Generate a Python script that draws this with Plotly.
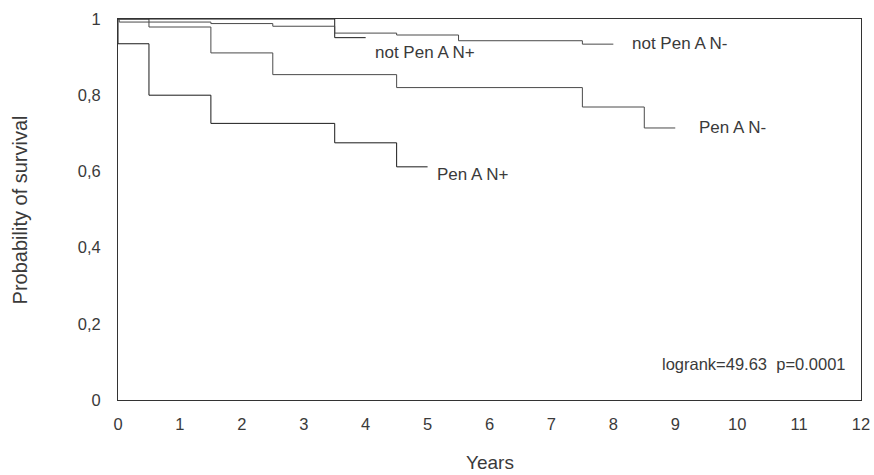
import plotly.graph_objects as go

# Kaplan-Meier step data (years, survival probability)
pen_np_x = [0, 0, 0.5, 1.5, 3.5, 4.5, 5.0]
pen_np_y = [1.0, 0.935, 0.80, 0.726, 0.675, 0.612, 0.612]

pen_nm_x = [0, 0.5, 1.5, 2.5, 4.5, 7.5, 8.5, 9.0]
pen_nm_y = [1.0, 0.979, 0.911, 0.854, 0.820, 0.769, 0.714, 0.714]

notpen_np_x = [0, 3.5, 4.0]
notpen_np_y = [1.0, 0.951, 0.951]

notpen_nm_x = [0, 0.02, 1.5, 2.5, 3.5, 4.5, 5.5, 7.5, 8.0]
notpen_nm_y = [1.0, 0.992, 0.988, 0.981, 0.963, 0.958, 0.943, 0.934, 0.934]

x_ticks = list(range(0, 13))
y_tickvals = [0, 0.2, 0.4, 0.6, 0.8, 1.0]
y_ticktext = ["0", "0,2", "0,4", "0,6", "0,8", "1"]

FONT = "Liberation Sans, Arial, sans-serif"
TXT = "#3a3a3a"

fig = go.Figure()
series = [
    (pen_np_x, pen_np_y, "#1a1a1a"),
    (pen_nm_x, pen_nm_y, "#4a4a4a"),
    (notpen_np_x, notpen_np_y, "#1a1a1a"),
    (notpen_nm_x, notpen_nm_y, "#4a4a4a"),
]
for xs, ys, c in series:
    fig.add_trace(go.Scatter(x=xs, y=ys, mode="lines", line=dict(shape="hv", color=c, width=1),
                             showlegend=False, hoverinfo="skip"))

labels = [
    ("not Pen A N+", 4.12, 0.912, 17),
    ("not Pen A N-", 8.27, 0.936, 17),
    ("Pen A N-", 9.35, 0.715, 17),
    ("Pen A N+", 5.12, 0.592, 17),
    ("logrank=49.63  p=0.0001", 8.75, 0.094, 16.5),
]
for t, x, y, s in labels:
    fig.add_annotation(x=x, y=y, text=t, showarrow=False, xanchor="left", yanchor="middle",
                       font=dict(family=FONT, size=s, color=TXT))

# axis titles
fig.add_annotation(xref="paper", yref="paper", x=0.5, y=-0.163, text="Years", showarrow=False,
                   xanchor="center", yanchor="middle", font=dict(family=FONT, size=19, color=TXT))
fig.add_annotation(xref="paper", yref="paper", x=-0.132, y=0.5, text="Probability of survival",
                   showarrow=False, textangle=-90, xanchor="center", yanchor="middle",
                   font=dict(family=FONT, size=20, color=TXT))

fig.update_layout(
    width=874, height=475,
    margin=dict(l=118, r=13, t=19, b=75, autoexpand=False),
    paper_bgcolor="white", plot_bgcolor="white",
    font=dict(family=FONT, color=TXT),
)
fig.update_xaxes(range=[0, 12], tickvals=x_ticks, ticktext=[str(v) for v in x_ticks],
                 showgrid=False, zeroline=False, showline=True, mirror=True, automargin=False,
                 linecolor="#333", linewidth=1, ticks="", ticklabelstandoff=9,
                 tickfont=dict(size=16.5, color=TXT))
fig.update_yaxes(range=[0, 1], tickvals=y_tickvals, ticktext=y_ticktext,
                 showgrid=False, zeroline=False, showline=True, mirror=True, automargin=False,
                 linecolor="#333", linewidth=1, ticks="", ticklabelstandoff=13,
                 tickfont=dict(size=16.5, color=TXT))

fig.write_html("out.html")
